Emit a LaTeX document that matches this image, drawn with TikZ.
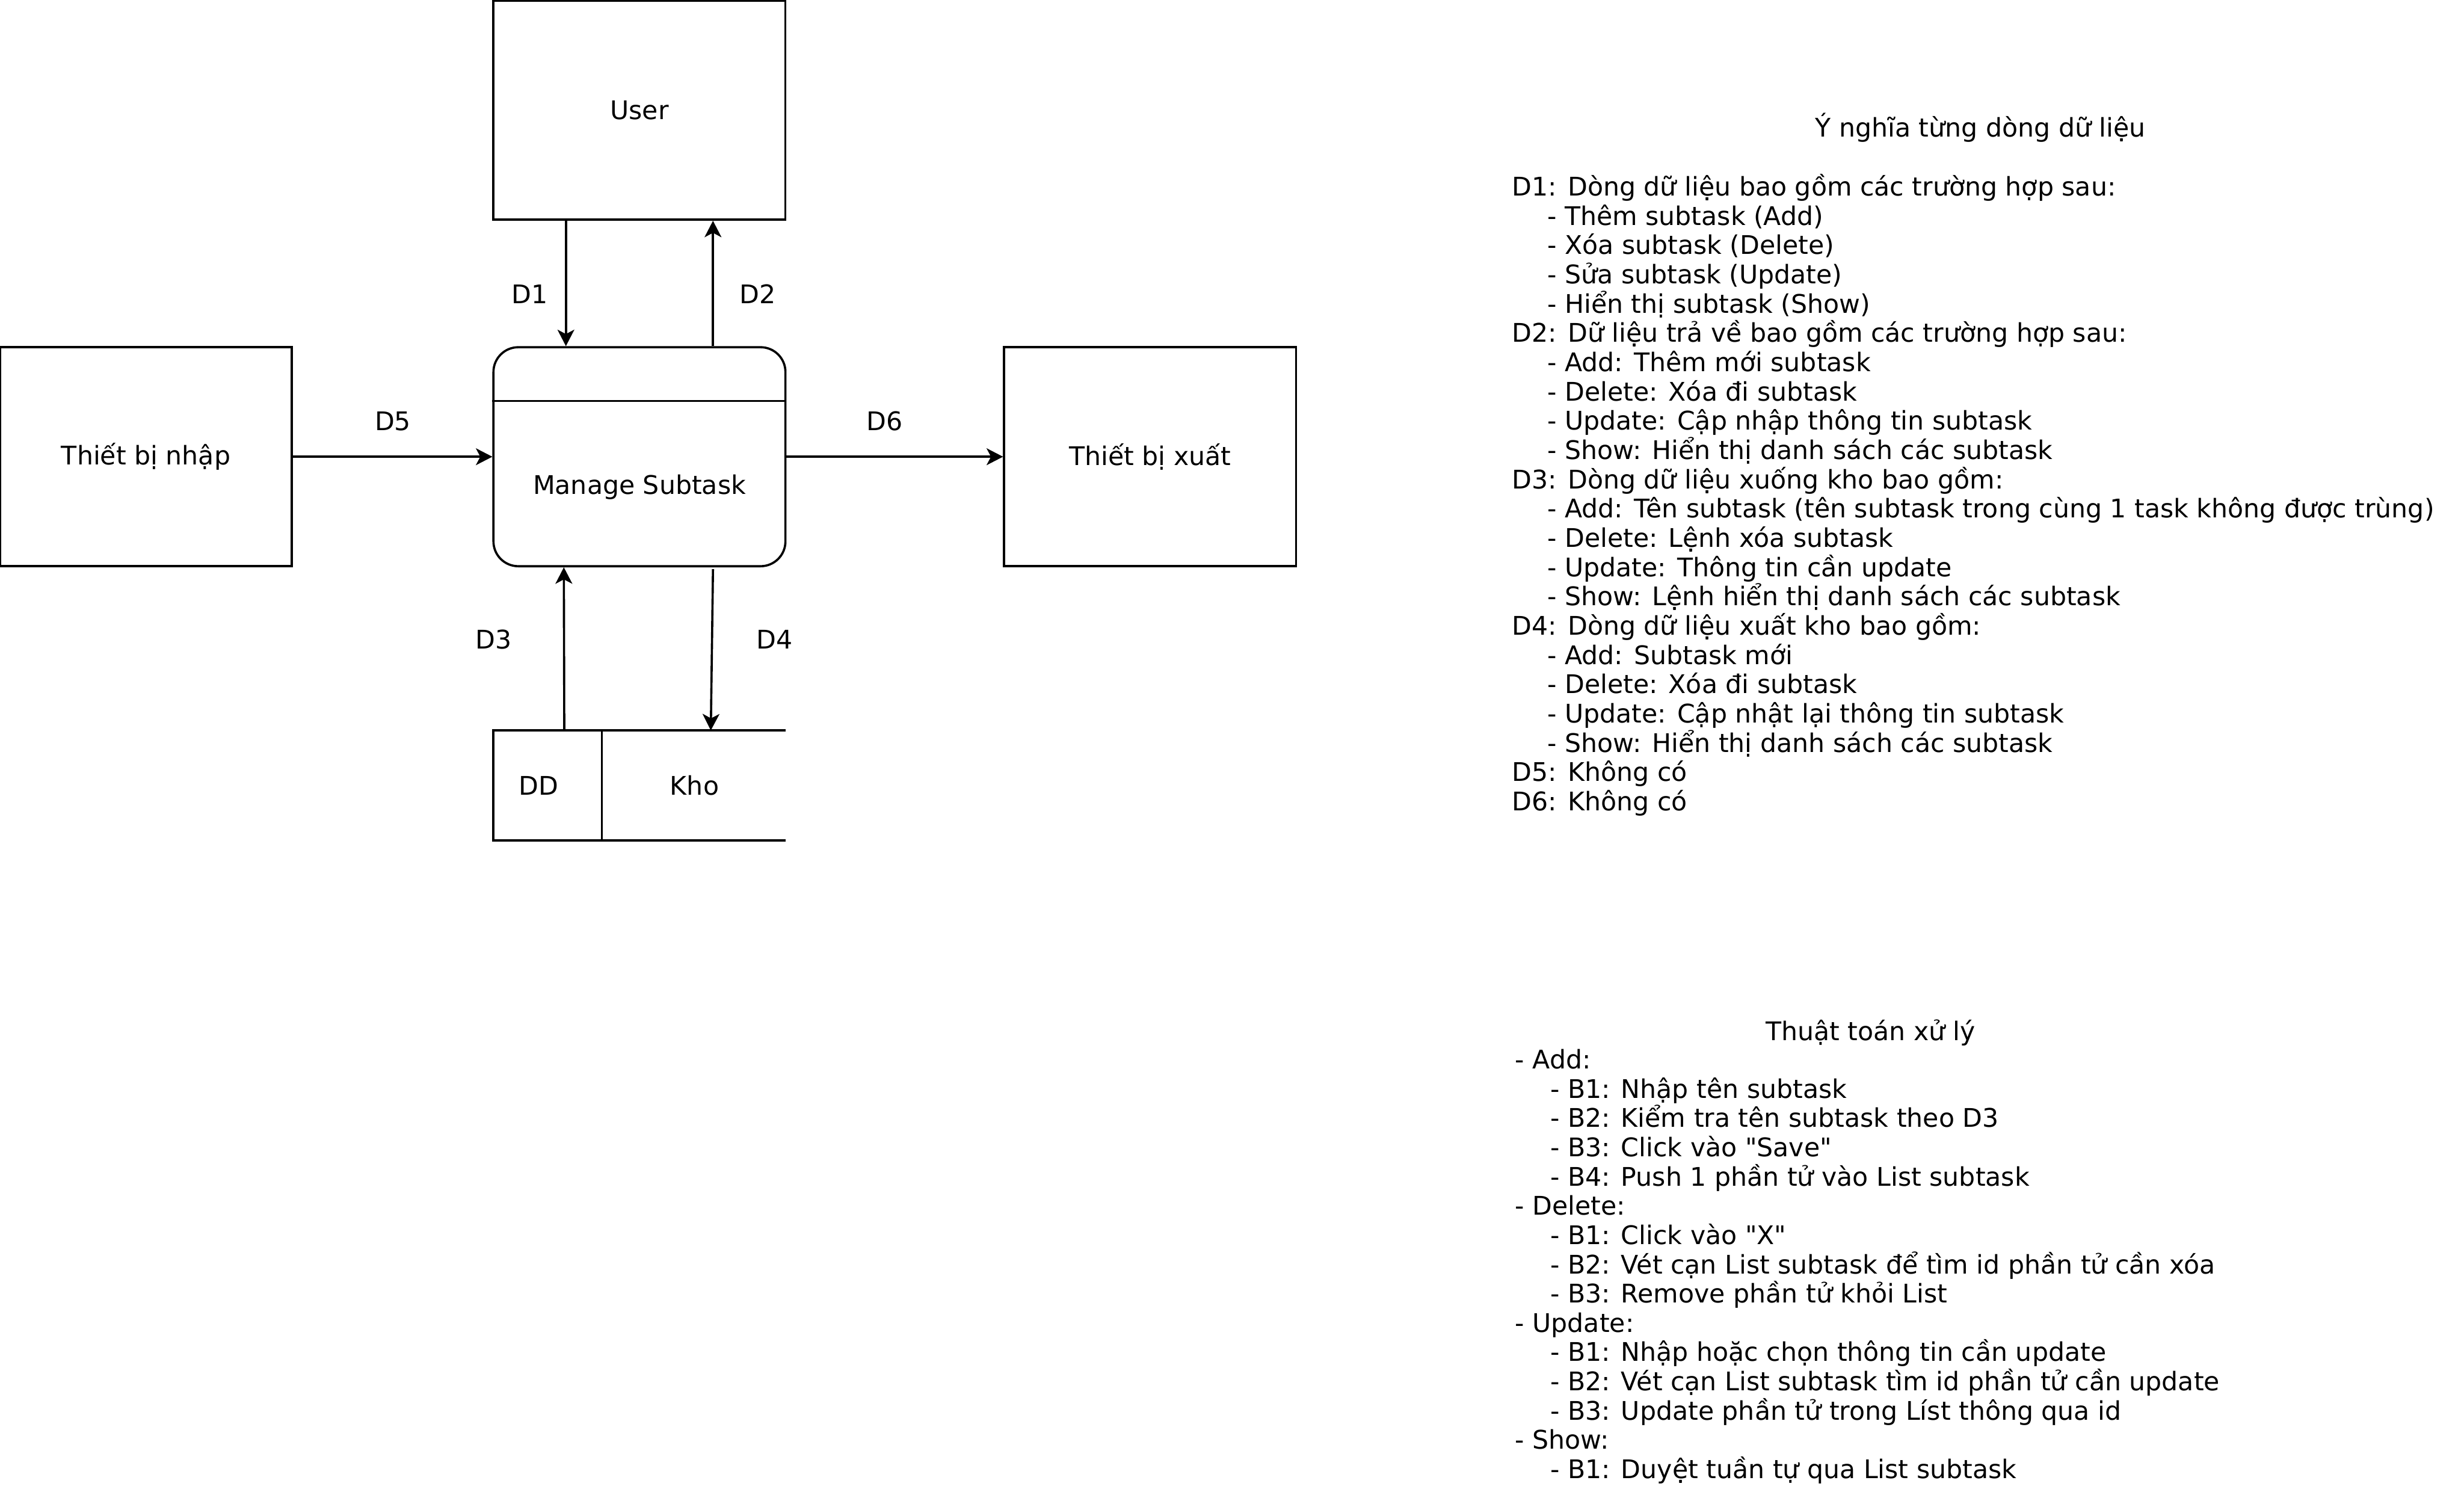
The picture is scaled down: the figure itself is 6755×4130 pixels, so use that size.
\documentclass[tikz,border=0pt]{standalone}
\usepackage{fontspec}
\setmainfont{DejaVu Sans}
\usetikzlibrary{arrows.meta, calc, positioning}

\newcommand{\dfdfont}{\fontsize{20pt}{22.82pt}\selectfont}
\newcommand{\indnt}{\hspace*{1.37em}}

\tikzset{
  entity/.style={rectangle, draw, line width=1.7pt, minimum width=8cm, minimum height=6cm, font=\dfdfont},
  process/.style={rectangle, draw, line width=1.7pt, rounded corners=0.68cm, minimum width=8cm, minimum height=6cm},
  storebox/.style={rectangle, minimum width=8cm, minimum height=3cm},
  flow/.style={-{Stealth[length=4.5mm, width=4.6mm, inset=1.2mm]}, line width=1.7pt},
  flowlabel/.style={font=\dfdfont, inner sep=0pt},
  notes/.style={align=left, inner sep=0pt, font=\dfdfont},
}

\begin{document}
\begin{tikzpicture}[x=0.01cm, y=-0.01cm]
  \path[use as bounding box, fill=white] (0,0) rectangle (6755,4130);

  % External entities
  \node[entity] (user) at (1753,302) {User};
  \node[entity] (inp) at (400,1252) {Thiết bị nhập};
  \node[entity] (outp) at (3153,1252) {Thiết bị xuất};

  % Process
  \node[process] (mgr) at (1753,1252) {};
  \draw[line width=1.7pt] ([yshift=-1.5cm]mgr.north west) -- ([yshift=-1.5cm]mgr.north east);
  \node[font=\dfdfont] (mgrtext) at (1753,1335) {Manage Subtask};

  % Data store
  \node[storebox] (store) at (1753,2153) {};
  \draw[line width=1.7pt] (store.north east) -- (store.north west) -- (store.south west) -- (store.south east);
  \draw[line width=1.7pt] ([xshift=2.98cm]store.north west) -- ([xshift=2.98cm]store.south west);
  \node[font=\dfdfont] (dd) at (1477,2153) {DD};
  \node[font=\dfdfont] (kho) at (1904,2153) {Kho};

  % Flows
  \draw[flow] ($(user.south west)!0.25!(user.south east)$) -- ($(mgr.north west)!0.25!(mgr.north east)$);
  \draw[flow] ($(mgr.north west)!0.75!(mgr.north east)$) -- ($(user.south west)!0.75!(user.south east)$);
  \draw[flow] (inp.east) -- (mgr.west);
  \draw[flow] (mgr.east) -- (outp.west);
  \draw[flow] ($(store.north west)!0.243!(store.north east)$) -- ($(mgr.south west)!0.243!(mgr.south east)$);
  \draw[flow] ($(mgr.south west)!0.75!(mgr.south east)+(0,5)$) -- ($(store.north west)!0.744!(store.north east)$);

  % Flow labels
  \node[flowlabel] (d1) at (1452,806) {D1};
  \node[flowlabel] (d2) at (2077,806) {D2};
  \node[flowlabel] (d5) at (1077,1155) {D5};
  \node[flowlabel] (d6) at (2425,1155) {D6};
  \node[flowlabel] (d3) at (1353,1753) {D3};
  \node[flowlabel] (d4) at (2124,1753) {D4};

  % Meaning of each flow (anchored at the last baseline)
  \node[notes, anchor=base] (meaningtitle) at (5429,376) {Ý nghĩa từng dòng dữ liệu};
  \node[notes, anchor=base west] (meaning) at (4145,2222) {D1: Dòng dữ liệu bao gồm các trường hợp sau:\\
    \indnt- Thêm subtask (Add)\\
    \indnt- Xóa subtask (Delete)\\
    \indnt- Sửa subtask (Update)\\
    \indnt- Hiển thị subtask (Show)\\
    D2: Dữ liệu trả về bao gồm các trường hợp sau:\\
    \indnt- Add: Thêm mới subtask\\
    \indnt- Delete: Xóa đi subtask\\
    \indnt- Update: Cập nhập thông tin subtask\\
    \indnt- Show: Hiển thị danh sách các subtask\\
    D3: Dòng dữ liệu xuống kho bao gồm:\\
    \indnt- Add: Tên subtask (tên subtask trong cùng 1 task không được trùng)\\
    \indnt- Delete: Lệnh xóa subtask\\
    \indnt- Update: Thông tin cần update\\
    \indnt- Show: Lệnh hiển thị danh sách các subtask\\
    D4: Dòng dữ liệu xuất kho bao gồm:\\
    \indnt- Add: Subtask mới\\
    \indnt- Delete: Xóa đi subtask\\
    \indnt- Update: Cập nhật lại thông tin subtask\\
    \indnt- Show: Hiển thị danh sách các subtask\\
    D5: Không có\\
    D6: Không có};

  % Processing algorithm
  \node[notes, anchor=base] (algotitle) at (5128,2853) {Thuật toán xử lý};
  \node[notes, anchor=base west] (algo) at (4153,4053) {- Add:\\
    \indnt- B1: Nhập tên subtask\\
    \indnt- B2: Kiểm tra tên subtask theo D3\\
    \indnt- B3: Click vào \textquotedbl Save\textquotedbl\\
    \indnt- B4: Push 1 phần tử vào List subtask\\
    - Delete:\\
    \indnt- B1: Click vào \textquotedbl X\textquotedbl\\
    \indnt- B2: Vét cạn List subtask để tìm id phần tử cần xóa\\
    \indnt- B3: Remove phần tử khỏi List\\
    - Update:\\
    \indnt- B1: Nhập hoặc chọn thông tin cần update\\
    \indnt- B2: Vét cạn List subtask tìm id phần tử cần update\\
    \indnt- B3: Update phần tử trong Líst thông qua id\\
    - Show:\\
    \indnt- B1: Duyệt tuần tự qua List subtask};
\end{tikzpicture}
\end{document}
